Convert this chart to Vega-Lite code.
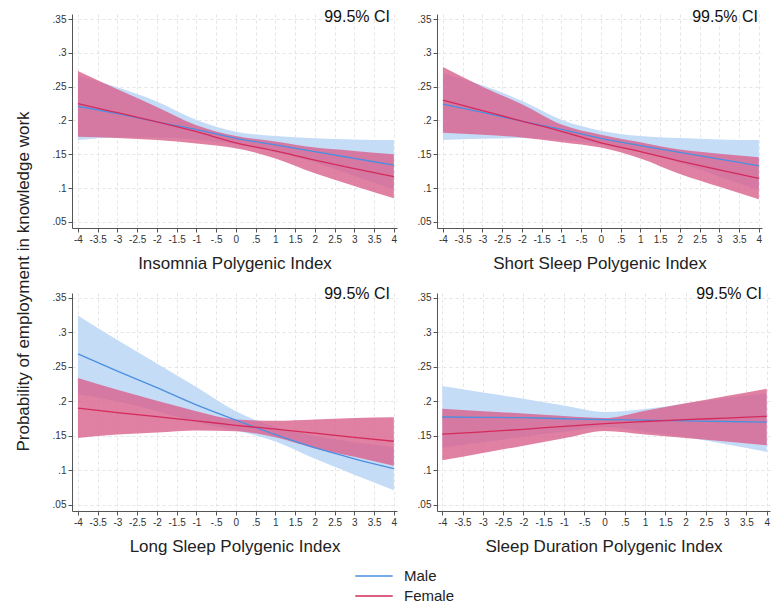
{
  "$schema": "https://vega.github.io/schema/vega-lite/v6.json",
  "background": "white",
  "padding": {"left": 14, "top": 9, "right": 5, "bottom": 0},
  "bounds": "flush",
  "columns": 2,
  "spacing": {"row": 65, "column": 40},
  "config": {
    "view": {"stroke": null},
    "font": "Liberation Sans",
    "axis": {
      "domainColor": "#555555",
      "tickColor": "#555555",
      "tickSize": 4,
      "labelColor": "#333333",
      "labelFont": "Liberation Sans",
      "labelFontSize": 10,
      "labelPadding": 2,
      "labelOverlap": false,
      "titleFont": "Liberation Sans",
      "titleFontSize": 17,
      "titleFontWeight": "normal",
      "titleColor": "#222222",
      "gridColor": "#e4e4e4",
      "gridDash": [3, 3],
      "gridWidth": 1
    },
    "axisX": {"titlePadding": 11},
    "legend": {"labelFont": "Liberation Sans"}
  },
  "data": {"values": [
    {"p":"I","s":"Male","x":-4,"y":0.221,"lo":0.171,"hi":0.266},
    {"p":"I","s":"Male","x":-3,"y":0.210,"lo":0.175,"hi":0.249},
    {"p":"I","s":"Male","x":-2,"y":0.198,"lo":0.175,"hi":0.228},
    {"p":"I","s":"Male","x":-1,"y":0.1865,"lo":0.172,"hi":0.2007},
    {"p":"I","s":"Male","x":0,"y":0.1737,"lo":0.165,"hi":0.1835},
    {"p":"I","s":"Male","x":1,"y":0.164,"lo":0.153,"hi":0.177},
    {"p":"I","s":"Male","x":2,"y":0.154,"lo":0.138,"hi":0.1737},
    {"p":"I","s":"Male","x":3,"y":0.144,"lo":0.118,"hi":0.172},
    {"p":"I","s":"Male","x":4,"y":0.134,"lo":0.098,"hi":0.171},
    {"p":"I","s":"Female","x":-4,"y":0.225,"lo":0.176,"hi":0.273},
    {"p":"I","s":"Female","x":-3,"y":0.2115,"lo":0.174,"hi":0.246},
    {"p":"I","s":"Female","x":-2,"y":0.198,"lo":0.171,"hi":0.220},
    {"p":"I","s":"Female","x":-1,"y":0.1835,"lo":0.166,"hi":0.193},
    {"p":"I","s":"Female","x":0,"y":0.167,"lo":0.159,"hi":0.177},
    {"p":"I","s":"Female","x":1,"y":0.155,"lo":0.144,"hi":0.169},
    {"p":"I","s":"Female","x":2,"y":0.1415,"lo":0.122,"hi":0.160},
    {"p":"I","s":"Female","x":3,"y":0.129,"lo":0.103,"hi":0.155},
    {"p":"I","s":"Female","x":4,"y":0.117,"lo":0.085,"hi":0.150},
    {"p":"S","s":"Male","x":-4,"y":0.224,"lo":0.171,"hi":0.270},
    {"p":"S","s":"Male","x":-3,"y":0.212,"lo":0.173,"hi":0.252},
    {"p":"S","s":"Male","x":-2,"y":0.199,"lo":0.174,"hi":0.229},
    {"p":"S","s":"Male","x":-1,"y":0.187,"lo":0.171,"hi":0.201},
    {"p":"S","s":"Male","x":0,"y":0.1737,"lo":0.165,"hi":0.185},
    {"p":"S","s":"Male","x":1,"y":0.163,"lo":0.153,"hi":0.177},
    {"p":"S","s":"Male","x":2,"y":0.153,"lo":0.137,"hi":0.174},
    {"p":"S","s":"Male","x":3,"y":0.143,"lo":0.117,"hi":0.172},
    {"p":"S","s":"Male","x":4,"y":0.133,"lo":0.097,"hi":0.171},
    {"p":"S","s":"Female","x":-4,"y":0.230,"lo":0.182,"hi":0.279},
    {"p":"S","s":"Female","x":-3,"y":0.2145,"lo":0.179,"hi":0.250},
    {"p":"S","s":"Female","x":-2,"y":0.199,"lo":0.175,"hi":0.224},
    {"p":"S","s":"Female","x":-1,"y":0.184,"lo":0.168,"hi":0.194},
    {"p":"S","s":"Female","x":0,"y":0.167,"lo":0.160,"hi":0.179},
    {"p":"S","s":"Female","x":1,"y":0.154,"lo":0.144,"hi":0.168},
    {"p":"S","s":"Female","x":2,"y":0.140,"lo":0.121,"hi":0.157},
    {"p":"S","s":"Female","x":3,"y":0.127,"lo":0.102,"hi":0.151},
    {"p":"S","s":"Female","x":4,"y":0.1146,"lo":0.0836,"hi":0.1456},
    {"p":"L","s":"Male","x":-4,"y":0.269,"lo":0.211,"hi":0.3246},
    {"p":"L","s":"Male","x":-3,"y":0.244,"lo":0.200,"hi":0.289},
    {"p":"L","s":"Male","x":-2,"y":0.220,"lo":0.186,"hi":0.255},
    {"p":"L","s":"Male","x":-1,"y":0.195,"lo":0.170,"hi":0.221},
    {"p":"L","s":"Male","x":0,"y":0.173,"lo":0.158,"hi":0.186},
    {"p":"L","s":"Male","x":1,"y":0.152,"lo":0.142,"hi":0.163},
    {"p":"L","s":"Male","x":2,"y":0.133,"lo":0.117,"hi":0.150},
    {"p":"L","s":"Male","x":3,"y":0.117,"lo":0.094,"hi":0.141},
    {"p":"L","s":"Male","x":4,"y":0.1028,"lo":0.0714,"hi":0.134},
    {"p":"L","s":"Female","x":-4,"y":0.1905,"lo":0.147,"hi":0.234},
    {"p":"L","s":"Female","x":-3,"y":0.184,"lo":0.152,"hi":0.217},
    {"p":"L","s":"Female","x":-2,"y":0.178,"lo":0.155,"hi":0.201},
    {"p":"L","s":"Female","x":-1,"y":0.172,"lo":0.158,"hi":0.186},
    {"p":"L","s":"Female","x":0,"y":0.1655,"lo":0.157,"hi":0.174},
    {"p":"L","s":"Female","x":1,"y":0.160,"lo":0.148,"hi":0.172},
    {"p":"L","s":"Female","x":2,"y":0.154,"lo":0.132,"hi":0.174},
    {"p":"L","s":"Female","x":3,"y":0.148,"lo":0.120,"hi":0.176},
    {"p":"L","s":"Female","x":4,"y":0.1424,"lo":0.107,"hi":0.177},
    {"p":"D","s":"Male","x":-4,"y":0.1775,"lo":0.133,"hi":0.2224},
    {"p":"D","s":"Male","x":-3,"y":0.177,"lo":0.141,"hi":0.213},
    {"p":"D","s":"Male","x":-2,"y":0.1765,"lo":0.149,"hi":0.204},
    {"p":"D","s":"Male","x":-1,"y":0.175,"lo":0.156,"hi":0.194},
    {"p":"D","s":"Male","x":0,"y":0.1737,"lo":0.163,"hi":0.1847},
    {"p":"D","s":"Male","x":1,"y":0.173,"lo":0.156,"hi":0.189},
    {"p":"D","s":"Male","x":2,"y":0.172,"lo":0.148,"hi":0.197},
    {"p":"D","s":"Male","x":3,"y":0.171,"lo":0.138,"hi":0.205},
    {"p":"D","s":"Male","x":4,"y":0.170,"lo":0.127,"hi":0.212},
    {"p":"D","s":"Female","x":-4,"y":0.1525,"lo":0.1148,"hi":0.1896},
    {"p":"D","s":"Female","x":-3,"y":0.156,"lo":0.1254,"hi":0.186},
    {"p":"D","s":"Female","x":-2,"y":0.1597,"lo":0.136,"hi":0.1826},
    {"p":"D","s":"Female","x":-1,"y":0.164,"lo":0.1466,"hi":0.179},
    {"p":"D","s":"Female","x":0,"y":0.168,"lo":0.1572,"hi":0.176},
    {"p":"D","s":"Female","x":1,"y":0.171,"lo":0.152,"hi":0.1867},
    {"p":"D","s":"Female","x":2,"y":0.1737,"lo":0.147,"hi":0.1973},
    {"p":"D","s":"Female","x":3,"y":0.176,"lo":0.142,"hi":0.208},
    {"p":"D","s":"Female","x":4,"y":0.1785,"lo":0.1365,"hi":0.2186}
  ]},
  "concat": [
        {
          "width": 325, "height": 214,
          "title": {"text": "99.5% CI", "anchor": "end", "baseline": "alphabetic", "offset": -24, "dx": -7, "fontSize": 16, "fontWeight": "normal", "font": "Liberation Sans", "color": "#111111"},
          "transform": [{"filter": "datum.p === 'I'"}],
          "encoding": {"x": {"field": "x", "type": "quantitative", "scale": {"domain": [-4.15, 4.08], "nice": false, "zero": false}, "axis": {"title": "Insomnia Polygenic Index", "values": [-4,-3.5,-3,-2.5,-2,-1.5,-1,-0.5,0,0.5,1,1.5,2,2.5,3,3.5,4], "labelExpr": "replace(toString(datum.value), '0.', '.')"}}},
          "layer": [
            {"transform": [{"filter": "datum.s === 'Male'"}], "mark": {"type": "area", "color": "#c5dcf7", "opacity": 1, "interpolate": "monotone"},
             "encoding": {"y": {"field": "lo", "type": "quantitative", "scale": {"domain": [0.0411, 0.3574], "nice": false, "zero": false}, "axis": {"title": "Probability of employment in knowledge work", "titleX": -49, "titleY": 267, "titleAngle": 270, "titleAlign": "center", "titleBaseline": "middle", "titleFontSize": 17, "values": [0.05,0.1,0.15,0.2,0.25,0.3,0.35], "labelExpr": "replace(toString(datum.value), '0.', '.')"}}, "y2": {"field": "hi"}}},
            {"transform": [{"filter": "datum.s === 'Female'"}], "mark": {"type": "area", "color": "#d8608c", "opacity": 0.8, "interpolate": "monotone"},
             "encoding": {"y": {"field": "lo", "type": "quantitative", "axis": {"title": "Probability of employment in knowledge work", "titleX": -49, "titleY": 267, "titleAngle": 270, "titleAlign": "center", "titleBaseline": "middle", "titleFontSize": 17, "values": [0.05,0.1,0.15,0.2,0.25,0.3,0.35], "labelExpr": "replace(toString(datum.value), '0.', '.')"}}, "y2": {"field": "hi"}}},
            {"mark": {"type": "line", "strokeWidth": 1.3, "interpolate": "monotone"},
             "encoding": {"y": {"field": "y", "type": "quantitative", "axis": {"title": "Probability of employment in knowledge work", "titleX": -49, "titleY": 267, "titleAngle": 270, "titleAlign": "center", "titleBaseline": "middle", "titleFontSize": 17, "values": [0.05,0.1,0.15,0.2,0.25,0.3,0.35], "labelExpr": "replace(toString(datum.value), '0.', '.')"}},
              "color": {"field": "s", "type": "nominal", "scale": {"domain": ["Male", "Female"], "range": ["#4a8fe0", "#d42a5b"]}, "legend": {"title": null, "orient": "none", "legendX": 290, "legendY": 550, "direction": "vertical", "symbolType": "M-1.7,0H1.7", "symbolSize": 484, "symbolStrokeWidth": 1.5, "labelFontSize": 15, "labelColor": "#222222", "labelOffset": 18, "rowPadding": 0}}}}
          ]
        },
        {
          "width": 325, "height": 214,
          "title": {"text": "99.5% CI", "anchor": "end", "baseline": "alphabetic", "offset": -24, "dx": -4, "fontSize": 16, "fontWeight": "normal", "font": "Liberation Sans", "color": "#111111"},
          "transform": [{"filter": "datum.p === 'S'"}],
          "encoding": {"x": {"field": "x", "type": "quantitative", "scale": {"domain": [-4.15, 4.08], "nice": false, "zero": false}, "axis": {"title": "Short Sleep Polygenic Index", "values": [-4,-3.5,-3,-2.5,-2,-1.5,-1,-0.5,0,0.5,1,1.5,2,2.5,3,3.5,4], "labelExpr": "replace(toString(datum.value), '0.', '.')"}}},
          "layer": [
            {"transform": [{"filter": "datum.s === 'Male'"}], "mark": {"type": "area", "color": "#c5dcf7", "opacity": 1, "interpolate": "monotone"},
             "encoding": {"y": {"field": "lo", "type": "quantitative", "scale": {"domain": [0.0411, 0.3574], "nice": false, "zero": false}, "axis": {"title": null, "values": [0.05,0.1,0.15,0.2,0.25,0.3,0.35], "labelExpr": "replace(toString(datum.value), '0.', '.')"}}, "y2": {"field": "hi"}}},
            {"transform": [{"filter": "datum.s === 'Female'"}], "mark": {"type": "area", "color": "#d8608c", "opacity": 0.8, "interpolate": "monotone"},
             "encoding": {"y": {"field": "lo", "type": "quantitative", "axis": {"title": null, "values": [0.05,0.1,0.15,0.2,0.25,0.3,0.35], "labelExpr": "replace(toString(datum.value), '0.', '.')"}}, "y2": {"field": "hi"}}},
            {"mark": {"type": "line", "strokeWidth": 1.3, "interpolate": "monotone"},
             "encoding": {"y": {"field": "y", "type": "quantitative", "axis": {"title": null, "values": [0.05,0.1,0.15,0.2,0.25,0.3,0.35], "labelExpr": "replace(toString(datum.value), '0.', '.')"}},
              "color": {"field": "s", "type": "nominal", "scale": {"domain": ["Male", "Female"], "range": ["#4a8fe0", "#d42a5b"]}, "legend": {"title": null, "orient": "none", "legendX": 290, "legendY": 550, "direction": "vertical", "symbolType": "M-1.7,0H1.7", "symbolSize": 484, "symbolStrokeWidth": 1.5, "labelFontSize": 15, "labelColor": "#222222", "labelOffset": 18, "rowPadding": 0}}}}
          ]
        },
        {
          "width": 325, "height": 218,
          "title": {"text": "99.5% CI", "anchor": "end", "baseline": "alphabetic", "offset": -22, "dx": -7, "fontSize": 16, "fontWeight": "normal", "font": "Liberation Sans", "color": "#111111"},
          "transform": [{"filter": "datum.p === 'L'"}],
          "encoding": {"x": {"field": "x", "type": "quantitative", "scale": {"domain": [-4.15, 4.08], "nice": false, "zero": false}, "axis": {"title": "Long Sleep Polygenic Index", "values": [-4,-3.5,-3,-2.5,-2,-1.5,-1,-0.5,0,0.5,1,1.5,2,2.5,3,3.5,4], "labelExpr": "replace(toString(datum.value), '0.', '.')"}}},
          "layer": [
            {"transform": [{"filter": "datum.s === 'Male'"}], "mark": {"type": "area", "color": "#c5dcf7", "opacity": 1, "interpolate": "monotone"},
             "encoding": {"y": {"field": "lo", "type": "quantitative", "scale": {"domain": [0.0413, 0.3572], "nice": false, "zero": false}, "axis": {"title": null, "values": [0.05,0.1,0.15,0.2,0.25,0.3,0.35], "labelExpr": "replace(toString(datum.value), '0.', '.')"}}, "y2": {"field": "hi"}}},
            {"transform": [{"filter": "datum.s === 'Female'"}], "mark": {"type": "area", "color": "#d8608c", "opacity": 0.8, "interpolate": "monotone"},
             "encoding": {"y": {"field": "lo", "type": "quantitative", "axis": {"title": null, "values": [0.05,0.1,0.15,0.2,0.25,0.3,0.35], "labelExpr": "replace(toString(datum.value), '0.', '.')"}}, "y2": {"field": "hi"}}},
            {"mark": {"type": "line", "strokeWidth": 1.3, "interpolate": "monotone"},
             "encoding": {"y": {"field": "y", "type": "quantitative", "axis": {"title": null, "values": [0.05,0.1,0.15,0.2,0.25,0.3,0.35], "labelExpr": "replace(toString(datum.value), '0.', '.')"}},
              "color": {"field": "s", "type": "nominal", "scale": {"domain": ["Male", "Female"], "range": ["#4a8fe0", "#d42a5b"]}, "legend": {"title": null, "orient": "none", "legendX": 290, "legendY": 550, "direction": "vertical", "symbolType": "M-1.7,0H1.7", "symbolSize": 484, "symbolStrokeWidth": 1.5, "labelFontSize": 15, "labelColor": "#222222", "labelOffset": 18, "rowPadding": 0}}}}
          ]
        },
        {
          "width": 333, "height": 218,
          "title": {"text": "99.5% CI", "anchor": "end", "baseline": "alphabetic", "offset": -22, "dx": -8, "fontSize": 16, "fontWeight": "normal", "font": "Liberation Sans", "color": "#111111"},
          "transform": [{"filter": "datum.p === 'D'"}],
          "encoding": {"x": {"field": "x", "type": "quantitative", "scale": {"domain": [-4.13, 4.08], "nice": false, "zero": false}, "axis": {"title": "Sleep Duration Polygenic Index", "values": [-4,-3.5,-3,-2.5,-2,-1.5,-1,-0.5,0,0.5,1,1.5,2,2.5,3,3.5,4], "labelExpr": "replace(toString(datum.value), '0.', '.')"}}},
          "layer": [
            {"transform": [{"filter": "datum.s === 'Male'"}], "mark": {"type": "area", "color": "#c5dcf7", "opacity": 1, "interpolate": "monotone"},
             "encoding": {"y": {"field": "lo", "type": "quantitative", "scale": {"domain": [0.0413, 0.3572], "nice": false, "zero": false}, "axis": {"title": null, "values": [0.05,0.1,0.15,0.2,0.25,0.3,0.35], "labelExpr": "replace(toString(datum.value), '0.', '.')"}}, "y2": {"field": "hi"}}},
            {"transform": [{"filter": "datum.s === 'Female'"}], "mark": {"type": "area", "color": "#d8608c", "opacity": 0.8, "interpolate": "monotone"},
             "encoding": {"y": {"field": "lo", "type": "quantitative", "axis": {"title": null, "values": [0.05,0.1,0.15,0.2,0.25,0.3,0.35], "labelExpr": "replace(toString(datum.value), '0.', '.')"}}, "y2": {"field": "hi"}}},
            {"mark": {"type": "line", "strokeWidth": 1.3, "interpolate": "monotone"},
             "encoding": {"y": {"field": "y", "type": "quantitative", "axis": {"title": null, "values": [0.05,0.1,0.15,0.2,0.25,0.3,0.35], "labelExpr": "replace(toString(datum.value), '0.', '.')"}},
              "color": {"field": "s", "type": "nominal", "scale": {"domain": ["Male", "Female"], "range": ["#4a8fe0", "#d42a5b"]}, "legend": {"title": null, "orient": "none", "legendX": 290, "legendY": 550, "direction": "vertical", "symbolType": "M-1.7,0H1.7", "symbolSize": 484, "symbolStrokeWidth": 1.5, "labelFontSize": 15, "labelColor": "#222222", "labelOffset": 18, "rowPadding": 0}}}}
          ]
        }
  ]
}
